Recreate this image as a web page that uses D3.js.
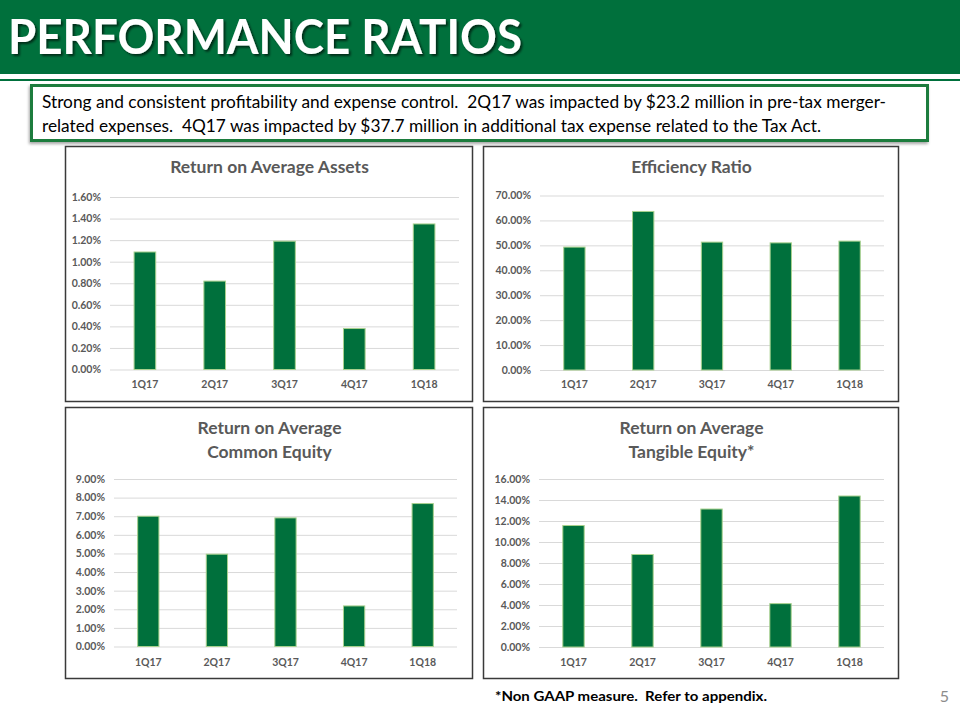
<!DOCTYPE html>
<html>
<head>
<meta charset="utf-8">
<script src="https://cdn.jsdelivr.net/npm/d3@7"></script>
<style>
  html, body { margin: 0; padding: 0; background: #ffffff; }
  svg { display: block; font-family: Lato, "Open Sans", sans-serif; }
  text { white-space: pre; }
</style>
</head>
<body>
<svg id="chart" width="960" height="720"></svg>
<script>
// ---- data ----
const quarters = ["1Q17", "2Q17", "3Q17", "4Q17", "1Q18"];
const roaaValues = [1.09, 0.82, 1.19, 0.38, 1.35];
const efficiencyValues = [49.3, 63.6, 51.3, 51.0, 51.7];
const roaceValues = [7.00, 4.96, 6.91, 2.18, 7.68];
const rotceValues = [11.57, 8.81, 13.14, 4.13, 14.38];
const roaaTicks = [0, 0.2, 0.4, 0.6, 0.8, 1.0, 1.2, 1.4, 1.6];
const efficiencyTicks = [0, 10, 20, 30, 40, 50, 60, 70];
const roaceTicks = [0, 1, 2, 3, 4, 5, 6, 7, 8, 9];
const rotceTicks = [0, 2, 4, 6, 8, 10, 12, 14, 16];
const pageTitle = "PERFORMANCE RATIOS";
const bodyLines = [
  "Strong and consistent profitability and expense control.  2Q17 was impacted by $23.2 million in pre-tax merger-",
  "related expenses.  4Q17 was impacted by $37.7 million in additional tax expense related to the Tax Act."
];
const footnote = "*Non GAAP measure.  Refer to appendix.";
const pageNumber = "5";

// ---- styles ----
const GREEN = "#00703c";
const BAR_STROKE = "#a9d18e";
const GRID = "#d9d9d9";
const TEXT_GRAY = "#595959";

const svg = d3.select("#chart");
const defs = svg.append("defs");
const sh = defs.append("filter").attr("id", "shadow").attr("x", "-5%").attr("y", "-5%").attr("width", "110%").attr("height", "120%");
sh.append("feDropShadow").attr("dx", -1).attr("dy", 2).attr("stdDeviation", 1.5).attr("flood-color", "#000").attr("flood-opacity", 0.35);
const tsh = defs.append("filter").attr("id", "tshadow");
tsh.append("feDropShadow").attr("dx", 2).attr("dy", 2).attr("stdDeviation", 1).attr("flood-color", "#000").attr("flood-opacity", 0.6);

// ---- header ----
svg.append("rect").attr("x", 0).attr("y", 0).attr("width", 960).attr("height", 74).attr("fill", GREEN);
svg.append("rect").attr("x", 0).attr("y", 79).attr("width", 960).attr("height", 2).attr("fill", GREEN);
svg.append("text").attr("x", 8).attr("y", 54)
  .attr("font-size", 47).attr("font-weight", 700).attr("fill", "#ffffff")
  .attr("textLength", 514).attr("lengthAdjust", "spacingAndGlyphs")
  .attr("filter", "url(#tshadow)")
  .text(pageTitle);

// ---- text box ----
svg.append("rect").attr("x", 31.5).attr("y", 85.5).attr("width", 896).attr("height", 55)
  .attr("fill", "#ffffff").attr("stroke", "#1e7b3c").attr("stroke-width", 3).attr("filter", "url(#shadow)");
const bodyLens = [844, 779];
bodyLines.forEach((t, i) => {
  svg.append("text").attr("x", 42).attr("y", 108 + i * 23.5)
    .attr("font-size", 16.5).attr("fill", "#000000")
    .attr("textLength", bodyLens[i]).attr("lengthAdjust", "spacingAndGlyphs")
    .text(t);
});

// ---- charts ----
const charts = [
  { panel: [65, 146, 472, 401], title: ["Return on Average Assets"], titleY: 173, values: roaaValues, ticks: roaaTicks,
    x0: 110, x1: 459, yTop: 197, yBot: 369.5, xLabelY: 388 },
  { panel: [483, 146, 898, 401], title: ["Efficiency Ratio"], titleY: 173, values: efficiencyValues, ticks: efficiencyTicks,
    x0: 540, x1: 884, yTop: 195.5, yBot: 370, xLabelY: 388 },
  { panel: [65, 407, 472, 678], title: ["Return on Average", "Common Equity"], titleY: 434, values: roaceValues, ticks: roaceTicks,
    x0: 114, x1: 457, yTop: 479, yBot: 646.5, xLabelY: 665.5 },
  { panel: [483, 407, 898, 678], title: ["Return on Average", "Tangible Equity*"], titleY: 434, values: rotceValues, ticks: rotceTicks,
    x0: 539, x1: 884, yTop: 479, yBot: 647, xLabelY: 665.5 }
];

charts.forEach(c => {
  const g = svg.append("g");
  const [px0, py0, px1, py1] = c.panel;
  g.append("rect").attr("x", px0 + 0.5).attr("y", py0 + 0.5).attr("width", px1 - px0).attr("height", py1 - py0)
    .attr("fill", "#ffffff").attr("stroke", "#3a3a3a").attr("stroke-width", 1.5);

  const cx = (px0 + px1) / 2;
  c.title.forEach((t, i) => {
    g.append("text").attr("x", cx + 1).attr("y", c.titleY + i * 23.5)
      .attr("text-anchor", "middle").attr("font-size", 17.5).attr("font-weight", 700).attr("fill", TEXT_GRAY)
      .text(t);
  });

  const x = d3.scaleBand().domain(quarters).range([c.x0, c.x1]).paddingInner(0.69).paddingOuter(0.345);
  const y = d3.scaleLinear().domain([0, d3.max(c.ticks)]).range([c.yBot, c.yTop]);

  // gridlines + y labels
  const yAxis = d3.axisLeft(y).tickValues(c.ticks).tickSize(-(c.x1 - c.x0)).tickPadding(9)
    .tickFormat(d => d3.format(".2f")(d) + "%");
  const ya = g.append("g").attr("transform", `translate(${c.x0},0)`).call(yAxis);
  ya.select(".domain").remove();
  ya.selectAll(".tick line").attr("stroke", GRID).attr("stroke-width", 1);
  ya.selectAll(".tick text").attr("fill", TEXT_GRAY).attr("font-size", 10.5).attr("font-weight", 700)
    .attr("font-family", "Lato, sans-serif");

  // bars
  g.selectAll("rect.bar").data(c.values).enter().append("rect").attr("class", "bar")
    .attr("x", (d, i) => x(quarters[i]))
    .attr("y", d => y(d))
    .attr("width", x.bandwidth())
    .attr("height", d => y(0) - y(d))
    .attr("fill", GREEN).attr("stroke", BAR_STROKE).attr("stroke-width", 1);

  // x axis labels
  const xAxis = d3.axisBottom(x).tickSize(0).tickPadding(0);
  const xa = g.append("g").attr("transform", `translate(0,${c.xLabelY})`).call(xAxis);
  xa.select(".domain").remove();
  xa.selectAll(".tick text").attr("fill", TEXT_GRAY).attr("font-size", 10.5).attr("font-weight", 700)
    .attr("font-family", "Lato, sans-serif").attr("dy", 0).attr("y", 0);
});

// ---- footer ----
svg.append("text").attr("x", 495).attr("y", 701).attr("font-size", 14).attr("font-weight", 700).attr("fill", "#000000")
  .attr("textLength", 272).attr("lengthAdjust", "spacingAndGlyphs").text(footnote);
svg.append("text").attr("x", 949).attr("y", 702).attr("text-anchor", "end").attr("font-size", 16).attr("fill", "#8c8c8c").text(pageNumber);
</script>
</body>
</html>
